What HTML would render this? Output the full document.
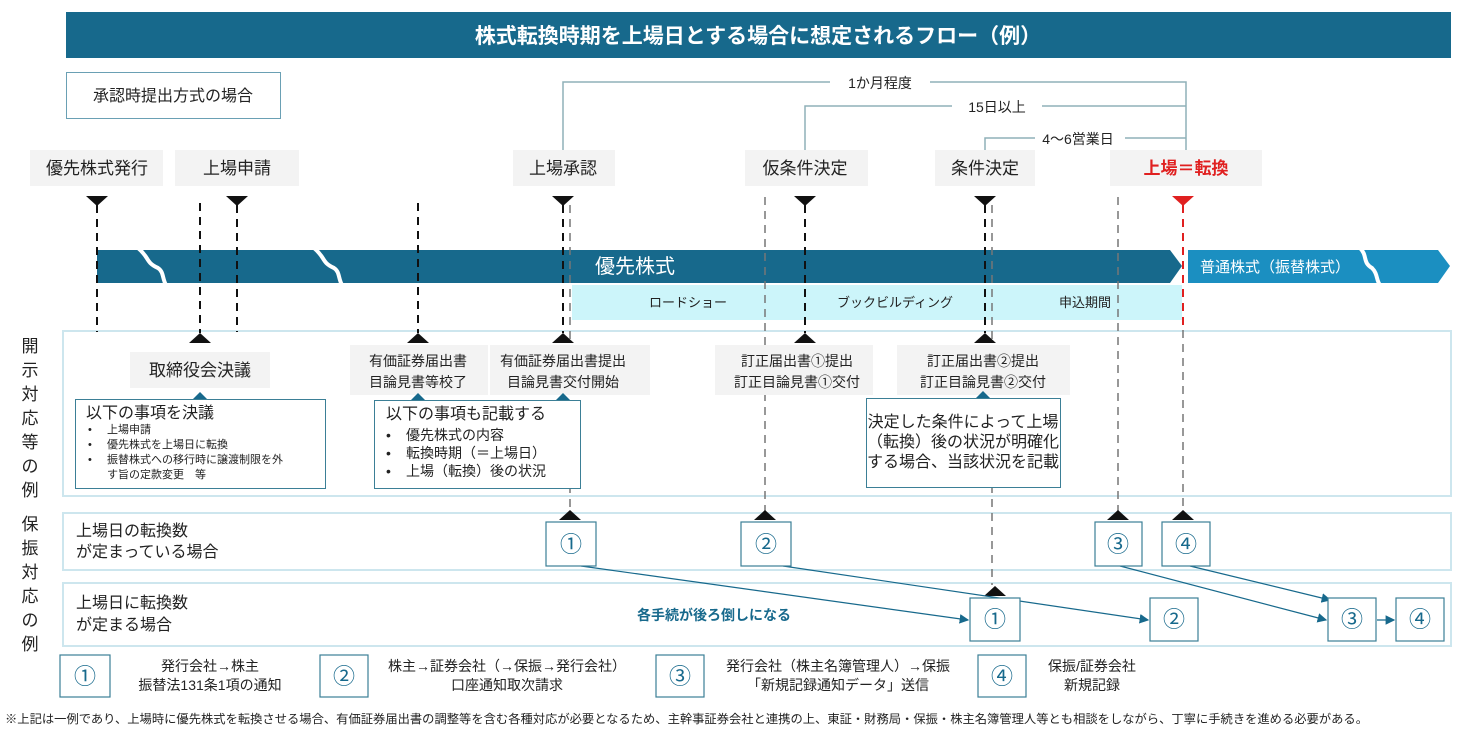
<!DOCTYPE html>
<html><head><meta charset="utf-8"><style>
body{margin:0;background:#fff}
svg{display:block}
text{font-family:"Liberation Sans","Noto Sans CJK JP",sans-serif;fill:#222}
.m{font-size:16px;text-anchor:middle}
.L{font-size:17px;text-anchor:middle}
.s{font-size:14px;text-anchor:middle}
.n{font-size:22px;text-anchor:middle;fill:#17698c}
</style></head><body>
<svg width="1471" height="729" viewBox="0 0 1471 729" xmlns="http://www.w3.org/2000/svg">
<defs>
<g id="dn"><path d="M-11,0 L11,0 L0,10 Z" fill="#111"/></g>
<g id="up"><path d="M-11,0 L11,0 L0,-10 Z" fill="#111"/></g>
<marker id="ar" markerWidth="8" markerHeight="8" refX="7" refY="4" orient="auto"><path d="M0,0 L8,4 L0,8 Z" fill="#17698c"/></marker>
</defs>
<rect x="66" y="12" width="1385" height="46" fill="#17698c"/>
<text x="758" y="43" style="font-size:21px;font-weight:bold;fill:#fff;text-anchor:middle">株式転換時期を上場日とする場合に想定されるフロー（例）</text>
<rect x="66.5" y="72.5" width="214" height="46" fill="#fff" stroke="#6aa0b4"/>
<text x="173" y="101" class="m">承認時提出方式の場合</text>
<g stroke="#8fb0b8" stroke-width="1.5" fill="none">
<path d="M563,150 V82 H1186 V150"/>
<path d="M805,150 V106 H1186"/>
<path d="M985,150 V138 H1186"/>
</g>
<rect x="830" y="72" width="100" height="20" fill="#fff"/><text x="880" y="88" class="s">1か月程度</text>
<rect x="952" y="96" width="90" height="20" fill="#fff"/><text x="997" y="112" class="s">15日以上</text>
<rect x="1035" y="128" width="90" height="20" fill="#fff"/><text x="1078" y="144" class="s">4～6営業日</text>
<g fill="#f3f3f3">
<rect x="30" y="150" width="133" height="36"/><rect x="175" y="150" width="124" height="36"/>
<rect x="513" y="150" width="102" height="36"/><rect x="745" y="150" width="123" height="36"/>
<rect x="935" y="150" width="100" height="36"/><rect x="1110" y="150" width="152" height="36"/>
</g>
<text x="97" y="174" class="L">優先株式発行</text><text x="237" y="174" class="L">上場申請</text>
<text x="563" y="174" class="L">上場承認</text><text x="805" y="174" class="L">仮条件決定</text>
<text x="985" y="174" class="L">条件決定</text>
<text x="1186" y="174" class="L" style="fill:#e02020;font-weight:bold">上場＝転換</text>
<path d="M97,250 H1170 L1182,266 L1170,283 H97 Z" fill="#17698c"/>
<path d="M1188,250 H1438 L1450,266 L1438,283 H1188 Z" fill="#1b8fc1"/>
<g stroke="#fff" stroke-width="4" fill="none">
<path d="M138,248 C150,258 145,262 158,268 C164,272 162,278 166,285"/>
<path d="M314,248 C326,258 321,262 334,268 C340,272 338,278 342,285"/>
<path d="M1360,248 C1368,256 1362,262 1372,268 C1378,274 1376,280 1380,285"/>
</g>
<text x="635" y="273" style="font-size:20px;fill:#fff;text-anchor:middle">優先株式</text>
<text x="1275" y="272" style="font-size:15px;fill:#fff;text-anchor:middle">普通株式（振替株式）</text>
<rect x="572" y="285" width="610" height="35" fill="#ccf5fa"/>
<text x="688" y="307" class="s" style="font-size:13px">ロードショー</text>
<text x="895" y="307" class="s" style="font-size:13px">ブックビルディング</text>
<text x="1085" y="307" class="s" style="font-size:13px">申込期間</text>
<rect x="63" y="331" width="1388" height="165" fill="none" stroke="#cde6ee" stroke-width="2"/>
<rect x="63" y="513" width="1388" height="57" fill="none" stroke="#cde6ee" stroke-width="2"/>
<rect x="63" y="583" width="1388" height="63" fill="none" stroke="#cde6ee" stroke-width="2"/>
<text class="m" style="font-size:17px"><tspan x="30" y="352">開</tspan><tspan x="30" y="376">示</tspan><tspan x="30" y="400">対</tspan><tspan x="30" y="424">応</tspan><tspan x="30" y="448">等</tspan><tspan x="30" y="472">の</tspan><tspan x="30" y="496">例</tspan></text>
<text class="m" style="font-size:17px"><tspan x="30" y="530">保</tspan><tspan x="30" y="554">振</tspan><tspan x="30" y="578">対</tspan><tspan x="30" y="602">応</tspan><tspan x="30" y="626">の</tspan><tspan x="30" y="650">例</tspan></text>
<g stroke="#111" stroke-width="2" stroke-dasharray="8,6" fill="none">
<path d="M97,205 V332"/><path d="M200,203 V333"/><path d="M237,205 V332"/>
<path d="M418,203 V333"/><path d="M563,205 V333"/><path d="M805,205 V333"/><path d="M985,205 V333"/>
</g>
<g stroke="#777" stroke-width="1.5" stroke-dasharray="8,6" fill="none">
<path d="M570,205 V515"/><path d="M765,197 V515"/><path d="M992,205 V585"/>
<path d="M1118,197 V512"/><path d="M1183,330 V512"/>
</g>
<path d="M1183,205 V330" stroke="#e02020" stroke-width="2" stroke-dasharray="8,6"/>
<use href="#dn" x="97" y="196"/><use href="#dn" x="237" y="196"/><use href="#dn" x="563" y="196"/>
<use href="#dn" x="805" y="196"/><use href="#dn" x="985" y="196"/>
<path d="M1172,196 L1194,196 L1183,206 Z" fill="#e02020"/>
<use href="#up" x="200" y="343"/><use href="#up" x="418" y="343"/><use href="#up" x="563" y="343"/>
<use href="#up" x="805" y="343"/><use href="#up" x="985" y="343"/>
<use href="#up" x="570" y="520"/><use href="#up" x="765" y="520"/><use href="#up" x="1118" y="520"/><use href="#up" x="1183" y="520"/>
<use href="#up" x="995" y="596"/>
<g fill="#f3f3f3">
<rect x="130" y="352" width="140" height="36"/><rect x="350" y="345" width="138" height="50"/>
<rect x="490" y="345" width="160" height="50"/><rect x="715" y="345" width="158" height="50"/>
<rect x="897" y="345" width="173" height="50"/>
</g>
<text x="200" y="376" class="L">取締役会決議</text>
<text x="418" y="366" class="s">有価証券届出書</text><text x="418" y="387" class="s">目論見書等校了</text>
<text x="563" y="366" class="s">有価証券届出書提出</text><text x="563" y="387" class="s">目論見書交付開始</text>
<text x="797" y="366" class="s">訂正届出書①提出</text><text x="797" y="387" class="s">訂正目論見書①交付</text>
<text x="983" y="366" class="s">訂正届出書②提出</text><text x="983" y="387" class="s">訂正目論見書②交付</text>
<g fill="#fff" stroke="#3b7f96" stroke-width="1">
<rect x="75.5" y="399.5" width="250" height="89"/><rect x="374.5" y="400.5" width="206" height="88"/>
<rect x="866.5" y="398.5" width="194" height="89"/>
</g>
<g fill="#17698c"><path d="M193,399 L207,399 L200,392Z"/><path d="M411,400 L425,400 L418,393Z"/><path d="M556,400 L570,400 L563,393Z"/><path d="M976,398 L990,398 L983,391Z"/></g>
<text x="86" y="418" style="font-size:16px">以下の事項を決議</text>
<g style="font-size:11px"><text x="88" y="433">•</text><text x="107" y="433">上場申請</text>
<text x="88" y="448">•</text><text x="107" y="448">優先株式を上場日に転換</text>
<text x="88" y="463">•</text><text x="107" y="463">振替株式への移行時に譲渡制限を外</text>
<text x="107" y="478">す旨の定款変更　等</text></g>
<text x="386" y="419" style="font-size:16px">以下の事項も記載する</text>
<g style="font-size:14px"><text x="386" y="440">•</text><text x="406" y="440">優先株式の内容</text>
<text x="386" y="458">•</text><text x="406" y="458">転換時期（＝上場日）</text>
<text x="386" y="476">•</text><text x="406" y="476">上場（転換）後の状況</text></g>
<text x="963" y="427" class="m">決定した条件によって上場</text>
<text x="963" y="447" class="m">（転換）後の状況が明確化</text>
<text x="963" y="467" class="m">する場合、当該状況を記載</text>
<text x="76" y="536" style="font-size:16px">上場日の転換数</text><text x="76" y="557" style="font-size:16px">が定まっている場合</text>
<text x="76" y="608" style="font-size:16px">上場日に転換数</text><text x="76" y="630" style="font-size:16px">が定まる場合</text>
<g stroke="#17698c" stroke-width="1.2" fill="none" marker-end="url(#ar)">
<path d="M581,566 L968,620"/><path d="M783,566 L1148,620"/><path d="M1120,566 L1326,620"/>
<path d="M1190,566 L1330,600"/><path d="M1377,620 L1394,620"/>
</g>
<g fill="#fff" stroke="#3b7f96" stroke-width="1.2">
<rect x="546" y="522" width="50" height="44"/><rect x="741" y="522" width="50" height="44"/>
<rect x="1095" y="522" width="47" height="44"/><rect x="1162" y="522" width="48" height="44"/>
<rect x="970" y="598" width="50" height="43"/><rect x="1150" y="598" width="48" height="43"/>
<rect x="1328" y="598" width="48" height="43"/><rect x="1396" y="598" width="48" height="43"/>
<rect x="60" y="655" width="50" height="42"/><rect x="320" y="655" width="48" height="42"/>
<rect x="656" y="655" width="48" height="42"/><rect x="978" y="655" width="48" height="42"/>
</g>
<text x="571" y="552" class="n">①</text><text x="766" y="552" class="n">②</text><text x="1118" y="552" class="n">③</text><text x="1186" y="552" class="n">④</text>
<text x="995" y="627" class="n">①</text><text x="1174" y="627" class="n">②</text><text x="1352" y="627" class="n">③</text><text x="1420" y="627" class="n">④</text>
<text x="85" y="684" class="n">①</text><text x="344" y="684" class="n">②</text><text x="680" y="684" class="n">③</text><text x="1002" y="684" class="n">④</text>
<text x="714" y="620" style="font-size:14px;font-weight:bold;fill:#17698c;text-anchor:middle">各手続が後ろ倒しになる</text>
<text x="210" y="671" class="s">発行会社→株主</text><text x="210" y="690" class="s">振替法131条1項の通知</text>
<text x="507" y="671" class="s">株主→証券会社（→保振→発行会社）</text><text x="507" y="690" class="s">口座通知取次請求</text>
<text x="838" y="671" class="s">発行会社（株主名簿管理人）→保振</text><text x="838" y="690" class="s">「新規記録通知データ」送信</text>
<text x="1092" y="671" class="s">保振/証券会社</text><text x="1092" y="690" class="s">新規記録</text>
<text x="5" y="723" style="font-size:12px" textLength="1363" lengthAdjust="spacingAndGlyphs">※上記は一例であり、上場時に優先株式を転換させる場合、有価証券届出書の調整等を含む各種対応が必要となるため、主幹事証券会社と連携の上、東証・財務局・保振・株主名簿管理人等とも相談をしながら、丁寧に手続きを進める必要がある。</text>
</svg>
</body></html>
